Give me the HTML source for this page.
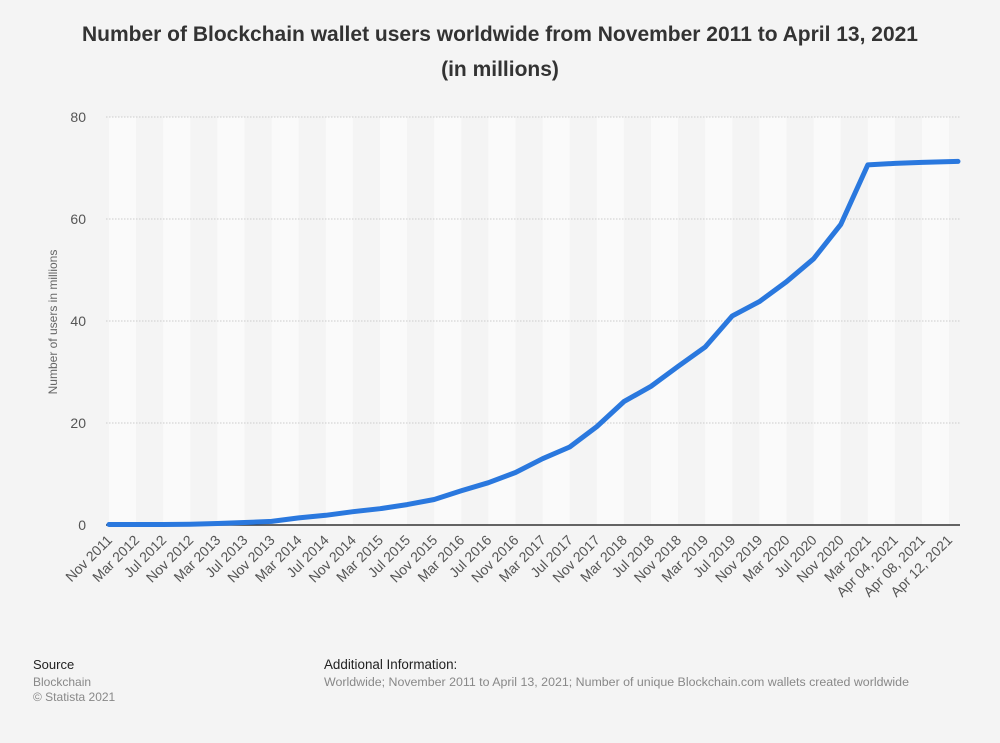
<!DOCTYPE html>
<html><head><meta charset="utf-8"><style>
body{margin:0;background:#f4f4f4;font-family:"Liberation Sans",sans-serif;}
svg{display:block}
</style></head><body>
<svg id="chart" width="1000" height="743">
<rect width="1000" height="743" fill="#f4f4f4"/>
<text x="500" y="41" text-anchor="middle" font-size="21" font-weight="bold" fill="#333">Number of Blockchain wallet users worldwide from November 2011 to April 13, 2021</text>
<text x="500" y="76" text-anchor="middle" font-size="21" font-weight="bold" fill="#333">(in millions)</text>
<g id="bands"></g><g id="grid"></g><g id="ylabels"></g><g id="xlabels"></g>
<text transform="translate(57,322) rotate(-90)" text-anchor="middle" font-size="12" fill="#666">Number of users in millions</text>
<line x1="106" y1="525" x2="960" y2="525" stroke="#333" stroke-width="1.5"/>
<path id="line" fill="none" stroke="#2a78de" stroke-width="5" stroke-linejoin="round" stroke-linecap="round"/>
<text x="33" y="669" font-size="13" fill="#222">Source</text>
<text x="33" y="686" font-size="12" fill="#888">Blockchain</text>
<text x="33" y="701" font-size="12" fill="#888">© Statista 2021</text>
<text x="324" y="669" font-size="13.4" fill="#222">Additional Information:</text>
<text x="324" y="686" font-size="12.4" fill="#888">Worldwide; November 2011 to April 13, 2021; Number of unique Blockchain.com wallets created worldwide</text>
</svg>
<script>
const categories=["Nov 2011","Mar 2012","Jul 2012","Nov 2012","Mar 2013","Jul 2013","Nov 2013","Mar 2014","Jul 2014","Nov 2014","Mar 2015","Jul 2015","Nov 2015","Mar 2016","Jul 2016","Nov 2016","Mar 2017","Jul 2017","Nov 2017","Mar 2018","Jul 2018","Nov 2018","Mar 2019","Jul 2019","Nov 2019","Mar 2020","Jul 2020","Nov 2020","Mar 2021","Apr 04, 2021","Apr 08, 2021","Apr 12, 2021"];
const users=[0.1,0.1,0.1,0.15,0.3,0.5,0.7,1.4,1.9,2.6,3.2,4.0,5.0,6.7,8.3,10.3,13.0,15.3,19.3,24.2,27.2,31.1,34.9,41.0,43.8,47.7,52.2,58.9,70.6,70.9,71.1,71.3];
const yTicks=[0,20,40,60,80];
const NS="http://www.w3.org/2000/svg";
const X0=109,STEP=27.1,Y0=525,YMAX=80,YTOP=117;
function xs(i){return X0+i*STEP;}
function ys(v){return Y0-(v/YMAX)*(Y0-YTOP);}
function mk(t,a,p){const e=document.createElementNS(NS,t);for(const k in a)e.setAttribute(k,a[k]);document.getElementById(p).appendChild(e);return e;}
categories.forEach((c,i)=>{
  const w=Math.min(STEP,960-xs(i));
  const b=mk('rect',{x:xs(i),y:YTOP,width:w,height:Y0-YTOP,fill:i%2?'#f4f4f4':'#fafafa'},'bands');
  
  
  const t=mk('text',{transform:`translate(${xs(i)+4},541) rotate(-45)`,'text-anchor':'end','font-size':'14',fill:'#555'},'xlabels');
  t.textContent=c;
  
  
});
yTicks.forEach(v=>{
  if(v>0){const g=mk('line',{x1:106,x2:960,y1:ys(v),y2:ys(v),stroke:'#ccc','stroke-dasharray':'1.5,1.5'},'grid');
  
  }
  const t=mk('text',{x:86,y:ys(v)+5,'text-anchor':'end','font-size':'14',fill:'#555'},'ylabels');
  t.textContent=v;
  
  
});
let d='';
users.forEach((v,i)=>{d+=(i?'L':'M')+(i==users.length-1?958:xs(i)).toFixed(1)+','+ys(v).toFixed(1);});
document.getElementById('line').setAttribute('d',d);
</script>
</body></html>
